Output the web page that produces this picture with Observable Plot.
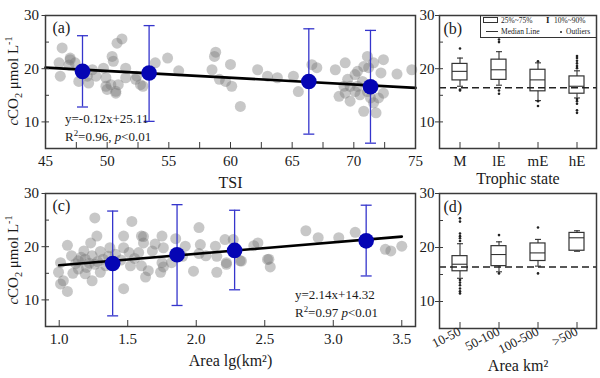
<!DOCTYPE html>
<html><head><meta charset="utf-8">
<script src="https://cdn.jsdelivr.net/npm/d3@7"></script>
<script src="https://cdn.jsdelivr.net/npm/@observablehq/plot@0.6"></script>
<style>
body{margin:0;background:#fff;}
#wrap{position:relative;width:600px;height:378px;font-family:"Liberation Serif","Times New Roman",serif;color:#1a1a1a;overflow:hidden}
#wrap svg{position:absolute}
#wrap svg text{font-family:"Liberation Serif","Times New Roman",serif;font-variant:normal}
.ylab{position:absolute;font-size:15px;white-space:nowrap;transform:translate(-50%,-50%) rotate(-90deg);}
.eq{position:absolute;font-size:13px;line-height:18px;white-space:nowrap}
sub,sup{font-size:68%;line-height:0}
#legend{position:absolute;left:480px;top:15px;width:116px;height:22px;border-left:1px solid #333;border-bottom:1px solid #333;font-size:7.5px;line-height:9px;}
#legend span{position:absolute;white-space:nowrap}
</style></head>
<body><div id="wrap"></div>
<script>
// ---------- Panel (a): TSI vs cCO2 ----------
const tsiX = [46.35,51.2,50.8,46.1,47.0,46.9,47.4,50.4,50.5,49.7,48.8,49.1,49.9,48.5,47.7,50.3,50.7,49.9,51.5,51.5,52.3,52.7,53.9,54.9,55.8,58.8,58.7,58.5,59.1,60.0,60.1,59.6,46.2,48.4,60.8,62.2,63.0,65.1,65.5,66.6,67.0,68.5,69.3,70.3,71.1,71.6,72.4,70.8,72.2,73.5,74.7,69.5,68.8,69.7,70.1,70.5,70.8,71.8,72.0,72.4,71.6,70.3,69.7,69.2,70.7,71.1,71.6,70.1,71.2,69.3,71.35,50.0,50.7,50.9,52.4,52.9,47.0,63.8];
const tsiY = [23.9,25.6,24.8,21.1,22.0,20.7,21.1,22.3,21.4,20.1,19.8,18.6,18.3,17.3,17.6,17.0,15.4,16.7,18.3,20.1,18.0,17.0,21.1,22.0,19.6,23.1,22.3,19.8,18.0,20.8,16.7,17.6,18.6,18.6,12.9,19.8,18.6,18.6,15.7,20.75,20.2,19.8,21.1,19.5,22.3,21.1,21.7,20.4,19.2,19.0,19.8,18.0,14.8,13.9,15.7,15.1,12.0,11.7,14.5,15.4,13.6,16.7,16.7,16.7,17.6,15.7,16.7,18.9,20.2,15.4,14.5,16.1,15.75,17.0,18.6,16.7,21.7,18.3];
const meanTsi = [48.0,53.4,66.35,71.35];
const meanTsiY = [19.5,19.2,17.6,16.6];
const meanTsiLo = [12.8,10.1,7.7,6.0];
const meanTsiHi = [26.2,28.1,27.5,27.2];
const fitTsiX = [45,75];
const fitTsiY = [20.2,16.4];
const tsiTicks = [45,50,55,60,65,70,75];
const tsiMinor = [47.5,50,52.5,55,57.5,60,62.5,65,67.5,70,72.5];

// ---------- Panel (b): trophic state boxes ----------
const trophCats = ["M","lE","mE","hE"];
const trophP10 = [16.7,16.9,14.0,14.5];
const trophQ1 = [17.8,17.9,15.75,15.3];
const trophMed = [19.5,19.8,17.9,16.7];
const trophQ3 = [20.9,21.7,19.8,18.55];
const trophP90 = [22.0,23.2,21.1,19.6];
const trophOut = [[23.8,16.1,15.9],[25.5,25.0,15.9,15.3],[21.4,13.9,13.0],[22.4,22.0,21.5,21.0,20.5,20.1,14.3,13.9,13.4,12.2,11.7]];
const refLine = 16.4;

// ---------- Panel (c): area vs cCO2 ----------
const areaX = [1.26,1.53,1.275,1.23,1.06,1.09,1.01,0.995,1.03,1.01,1.06,1.14,1.14,1.19,1.20,1.24,1.26,1.30,1.24,1.19,1.32,1.47,1.47,1.47,1.51,1.52,1.60,1.615,1.58,1.60,1.63,1.68,1.65,1.75,1.76,1.75,1.74,1.92,2.02,2.03,2.07,2.14,2.15,2.21,2.22,1.41,1.37,2.02,1.98,2.15,2.22,2.33,2.42,2.45,2.52,2.54,1.82,1.76,1.615,2.80,2.89,3.04,3.16,3.38,3.42,3.50,2.32,2.53,2.27,1.12,1.16,1.28,1.34,1.36,1.10,1.22,1.30,1.45,1.18,1.85,1.90,1.70,1.55];
const areaY = [25.4,24.75,22.0,20.7,20.25,18.3,17.0,15.2,13.6,13.0,11.6,17.35,15.8,17.65,16.1,18.3,16.7,15.2,13.6,14.9,17.65,22.0,19.8,12.1,18.9,16.4,22.0,20.7,18.9,16.4,14.3,19.2,15.5,22.0,19.8,17.0,15.2,20.1,23.6,20.4,18.3,20.1,15.2,21.35,17.0,18.6,19.8,18.7,15.4,18.2,16.7,17.3,20.2,20.7,17.6,16.2,17.0,16.2,21.9,23.0,21.7,21.7,22.7,19.5,19.2,20.1,17.35,17.65,21.35,16.8,18.0,17.2,16.4,18.2,15.0,16.9,19.1,17.5,19.2,21.5,18.2,20.5,17.8];
const meanArea = [1.39,1.86,2.28,3.24];
const meanAreaY = [16.85,18.5,19.3,21.1];
const meanAreaLo = [7.0,8.95,11.9,14.5];
const meanAreaHi = [26.7,27.9,26.85,27.8];
const fitAreaX = [1.0,3.5];
const fitAreaY = [16.5,21.9];
const areaTicks = [1.0,1.5,2.0,2.5,3.0,3.5];

// ---------- Panel (d): area class boxes ----------
const areaCats = ["10-50","50-100","100-500",">500"];
const areaP10 = [14.3,15.5,16.55,19.3];
const areaQ1 = [15.6,16.55,17.5,19.4];
const areaMed = [16.9,18.7,19.0,21.8];
const areaQ3 = [18.4,20.25,20.75,22.7];
const areaP90 = [20.7,21.05,21.5,23.1];
const areaOut = [[25.4,24.8,22.6,22.1,21.7,21.2,14.0,13.5,13.0,12.4,11.9,11.5],[22.3,15.2],[23.7,15.2],[]];

const yTicks = [10,20,30];
const yMinor = [10,15,20,25];
const legendLabels = ["25%~75%","10%~90%","Median Line","Outliers"];

// ---------- build ----------
const wrap = document.getElementById("wrap");
const serif = "'Liberation Serif', 'Times New Roman', serif";
const frameC = "#3a3a3a";
const blueBar = "#3535cc";
const blueDot = "#0505b4";
const st = {background:"transparent", overflow:"visible", fontFamily:serif, color:"#1a1a1a"};
const cap = {draw(ctx, size){ const r = Math.sqrt(size/Math.PI); ctx.moveTo(-r,0); ctx.lineTo(r,0); }};
const blank = () => "";

function place(svg, left, top){ svg.style.left = left+"px"; svg.style.top = top+"px"; wrap.appendChild(svg); }

function scatterPanel({xs, ys, mx, my, lo, hi, fx, fy, xdom, xticks, xminor, letter, xlabel}) {
  const pts = xs.map((x,i)=>({x, y: ys[i]}));
  const means = mx.map((x,i)=>({x, y: my[i], lo: lo[i], hi: hi[i]}));
  const fit = fx.map((x,i)=>({x, y: fy[i]}));
  return Plot.plot({
    width: 420, height: 178, marginTop: 15, marginLeft: 45, marginRight: 5, marginBottom: 30,
    x: {domain: xdom}, y: {domain: [5,30]}, style: st,
    marks: [
      Plot.dot(pts, {x:"x", y:"y", r:5.5, fill:"#7a7a7a", fillOpacity:0.42}),
      Plot.line(fit, {x:"x", y:"y", stroke:"#000", strokeWidth:2.6}),
      Plot.ruleX(means, {x:"x", y1:"lo", y2:"hi", stroke:blueBar, strokeWidth:1.3}),
      Plot.dot(means, {x:"x", y:"hi", symbol:cap, r:5.5, stroke:blueBar, strokeWidth:1.3, fill:"none"}),
      Plot.dot(means, {x:"x", y:"lo", symbol:cap, r:5.5, stroke:blueBar, strokeWidth:1.3, fill:"none"}),
      Plot.dot(means, {x:"x", y:"y", r:7.8, fill:blueDot}),
      Plot.frame({stroke:frameC, strokeWidth:1.5}),
      Plot.axisX({ticks:xminor, tickSize:-6, tickFormat:blank, label:null, stroke:frameC}),
      Plot.axisX({ticks:xticks, tickSize:0, tickPadding:7, fontSize:15, fontFamily:serif, label:null, tickFormat: xdom[0] < 10 ? d3.format(".1f") : d3.format("d")}),
      Plot.axisY({ticks:yMinor, tickSize:-4, tickFormat:blank, label:null, stroke:frameC}),
      Plot.axisY({ticks:yTicks, tickSize:3.5, tickPadding:3, fontSize:15, fontFamily:serif, label:null, stroke:frameC}),
      Plot.text([letter], {text:d=>d, frameAnchor:"top-left", dx:7, dy:12, fontSize:16, fontFamily:serif, textAnchor:"start", lineAnchor:"middle"}),
      Plot.text([xlabel], {text:d=>d, frameAnchor:"bottom", dy:34, fontSize:16, fontFamily:serif, lineAnchor:"middle"})
    ]
  });
}

function boxPanel({cats, p10, q1, med, q3, p90, outs, letter, xlabel, rotate, height, marginBottom, labelDy}) {
  const boxes = cats.map((c,i)=>({c, p10:p10[i], q1:q1[i], med:med[i], q3:q3[i], p90:p90[i]}));
  const outliers = cats.flatMap((c,i)=>outs[i].map(v=>({c, v})));
  return Plot.plot({
    width: 180, height, marginTop: 15, marginLeft: 19, marginRight: 4, marginBottom,
    x: {type:"band", domain:cats, paddingInner:0.62, paddingOuter:0.31},
    y: {domain:[5,30]}, style: st,
    marks: [
      Plot.ruleX(boxes, {x:"c", y1:"q3", y2:"p90", stroke:"#333", strokeWidth:1.1}),
      Plot.ruleX(boxes, {x:"c", y1:"p10", y2:"q1", stroke:"#333", strokeWidth:1.1}),
      Plot.dot(boxes, {x:"c", y:"p90", symbol:cap, r:3, stroke:"#333", strokeWidth:1.1, fill:"none"}),
      Plot.dot(boxes, {x:"c", y:"p10", symbol:cap, r:3, stroke:"#333", strokeWidth:1.1, fill:"none"}),
      Plot.barY(boxes, {x:"c", y1:"q1", y2:"q3", fill:"none", stroke:"#333", strokeWidth:1.2}),
      Plot.tickY(boxes, {x:"c", y:"med", stroke:"#333", strokeWidth:1.1}),
      Plot.dot(outliers, {x:"c", y:"v", r:1.3, fill:"#222"}),
      Plot.ruleY([refLine], {stroke:"#222", strokeWidth:1.5, strokeDasharray:"7,4"}),
      Plot.frame({stroke:frameC, strokeWidth:1.5}),
      Plot.axisX({tickSize:-6, tickFormat:blank, label:null, stroke:frameC}),
      rotate
        ? Plot.axisX({tickSize:0, tickPadding:2, tickRotate:-27, fontSize:13, fontFamily:serif, label:null})
        : Plot.axisX({tickSize:0, tickPadding:7, fontSize:15, fontFamily:serif, label:null}),
      Plot.axisY({ticks:yMinor, tickSize:-4, tickFormat:blank, label:null, stroke:frameC}),
      Plot.axisY({ticks:yTicks, tickSize:4, tickPadding:1, fontSize:15, fontFamily:serif, label:null, stroke:frameC}),
      Plot.text([letter], {text:d=>d, frameAnchor:"top-left", dx:4, dy:13, fontSize:16, fontFamily:serif, textAnchor:"start", lineAnchor:"middle"}),
      Plot.text([xlabel], {text:d=>d, frameAnchor:"bottom", dy:labelDy, fontSize:16, fontFamily:serif, lineAnchor:"middle"})
    ]
  });
}

place(scatterPanel({xs:tsiX, ys:tsiY, mx:meanTsi, my:meanTsiY, lo:meanTsiLo, hi:meanTsiHi, fx:fitTsiX, fy:fitTsiY, xdom:[45,75], xticks:tsiTicks, xminor:tsiMinor, letter:"(a)", xlabel:"TSI"}), 0, 0);
place(boxPanel({cats:trophCats, p10:trophP10, q1:trophQ1, med:trophMed, q3:trophQ3, p90:trophP90, outs:trophOut, letter:"(b)", xlabel:"Trophic state", rotate:false, height:178, marginBottom:30, labelDy:30}), 420, 0);
place(scatterPanel({xs:areaX, ys:areaY, mx:meanArea, my:meanAreaY, lo:meanAreaLo, hi:meanAreaHi, fx:fitAreaX, fy:fitAreaY, xdom:[0.9,3.6], xticks:areaTicks, xminor:areaTicks, letter:"(c)", xlabel:"Area lg(km²)"}), 0, 178);
place(boxPanel({cats:areaCats, p10:areaP10, q1:areaQ1, med:areaMed, q3:areaQ3, p90:areaP90, outs:areaOut, letter:"(d)", xlabel:"Area km²", rotate:true, height:178, marginBottom:28, labelDy:37}), 420, 178);

// HTML text overlays (mixed italic / sub / sup)
function html(cls, style, inner){ const d = document.createElement("div"); d.className = cls; d.setAttribute("style", style); d.innerHTML = inner; wrap.appendChild(d); return d; }
const ylabel = '<i>c</i>CO<sub>2</sub> μmol L<sup>-1</sup>';
html("ylab", "left:13px;top:81px", ylabel);
html("ylab", "left:13px;top:260px", ylabel);
html("eq", "left:65px;top:110px", 'y=-0.12x+25.11<br>R<sup>2</sup>=0.96, <i>p</i>&lt;0.01');
html("eq", "left:295px;top:286px", 'y=2.14x+14.32<br>R<sup>2</sup>=0.97 <i>p</i>&lt;0.01');

// legend for box plots
const lg = html("", "", ""); lg.id = "legend";
lg.innerHTML =
  '<span style="left:2px;top:2px;width:15px;height:6px;border:1px solid #333;box-sizing:border-box"></span>' +
  '<span style="left:20px;top:1px">'+legendLabels[0]+'</span>' +
  '<span style="left:65px;top:1px;font-weight:bold;font-size:9px;line-height:9px">I</span>' +
  '<span style="left:73px;top:1px">'+legendLabels[1]+'</span>' +
  '<span style="left:5px;top:16px;width:12px;height:0;border-top:1.5px solid #333"></span>' +
  '<span style="left:20px;top:12px">'+legendLabels[2]+'</span>' +
  '<span style="left:79px;top:16px;width:2px;height:2px;background:#222;border-radius:1px"></span>' +
  '<span style="left:85px;top:12px">'+legendLabels[3]+'</span>';
</script>
</body></html>
